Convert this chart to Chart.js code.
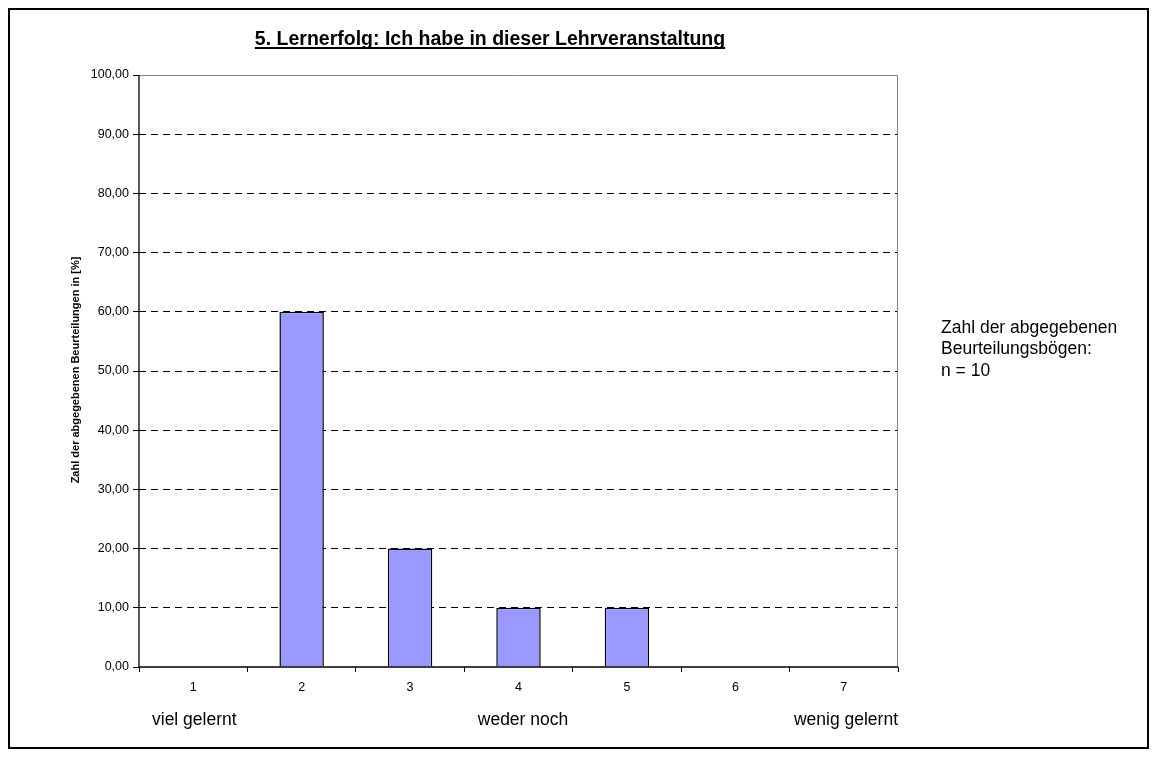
<!DOCTYPE html>
<html>
<head>
<meta charset="utf-8">
<script src="https://cdn.jsdelivr.net/npm/chart.js@4/dist/chart.umd.min.js"></script>
<style>
  html, body { margin: 0; padding: 0; background: #fff; }
  #wrap { width: 1156px; height: 765px; }
</style>
</head>
<body>
<div id="wrap"><canvas id="chart" width="1156" height="765"></canvas></div>
<script>
const categories = ['1', '2', '3', '4', '5', '6', '7'];
const percentValues = [0, 60, 20, 10, 10, 0, 0];
const chartTitle = '5. Lernerfolg: Ich habe in dieser Lehrveranstaltung';
const yAxisTitle = 'Zahl der abgegebenen Beurteilungen in [%]';
const scaleLabels = ['viel gelernt', 'weder noch', 'wenig gelernt'];
const noteLines = ['Zahl der abgegebenen', 'Beurteilungsbögen:', 'n = 10'];

const FONT = '"Liberation Sans", Arial, sans-serif';

// frame, title, notes and the scale words under the axis
const extras = {
    id: 'extras',
    beforeDraw(chart) {
        const c = chart.ctx;
        c.save();
        c.fillStyle = '#fff';
        c.fillRect(0, 0, chart.width, chart.height);
        c.restore();
    },
    afterDraw(chart) {
        const c = chart.ctx;
        const a = chart.chartArea;
        c.save();

        // outer border
        c.strokeStyle = '#000';
        c.lineWidth = 2;
        c.strokeRect(9, 9, 1139, 739);

        // grey top / right plot frame
        c.strokeStyle = '#808080';
        c.lineWidth = 1;
        c.beginPath();
        c.moveTo(a.left, a.top + 0.5);
        c.lineTo(a.right - 0.5, a.top + 0.5);
        c.lineTo(a.right - 0.5, a.bottom);
        c.stroke();

        // black axes
        c.strokeStyle = '#000';
        c.lineWidth = 1.3;
        c.beginPath();
        c.moveTo(a.left, a.top);
        c.lineTo(a.left, a.bottom);
        c.lineTo(a.right, a.bottom);
        c.stroke();

        // title
        c.fillStyle = '#000';
        c.font = 'bold 19.5px ' + FONT;
        c.textAlign = 'center';
        c.textBaseline = 'alphabetic';
        const tx = 490, ty = 45;
        c.fillText(chartTitle, tx, ty);
        const tw = c.measureText(chartTitle).width;
        c.fillRect(tx - tw / 2, ty + 2, tw, 2);

        // y-axis title
        c.save();
        c.translate(76, 370);
        c.rotate(-Math.PI / 2);
        c.font = 'bold 11px ' + FONT;
        c.textBaseline = 'middle';
        c.fillText(yAxisTitle, 0, 0);
        c.restore();

        // scale words
        c.font = '17.5px ' + FONT;
        c.textBaseline = 'middle';
        c.textAlign = 'left';
        c.fillText(scaleLabels[0], 152, 720);
        c.textAlign = 'center';
        c.fillText(scaleLabels[1], 523, 720);
        c.textAlign = 'right';
        c.fillText(scaleLabels[2], 898, 720);

        // note on the right
        c.textAlign = 'left';
        noteLines.forEach((t, i) => c.fillText(t, 941, 328 + i * 21.5));

        c.restore();
    }
};

const ctx = document.getElementById('chart').getContext('2d');
new Chart(ctx, {
    type: 'bar',
    data: {
        labels: categories,
        datasets: [{
            data: percentValues,
            backgroundColor: '#9999ff',
            borderColor: '#000',
            borderWidth: 1.5,
            categoryPercentage: 1,
            barPercentage: 0.41
        }]
    },
    options: {
        responsive: false,
        animation: false,
        devicePixelRatio: 1,
        layout: { padding: { left: 79, right: 258, top: 75, bottom: 58 } },
        plugins: {
            legend: { display: false },
            tooltip: { enabled: false },
            title: { display: false }
        },
        scales: {
            x: {
                offset: true,
                afterFit: (s) => { s.height = 40; },
                grid: {
                    offset: true,
                    drawOnChartArea: false,
                    drawTicks: true,
                    tickLength: 5,
                    tickColor: '#000'
                },
                border: { display: false },
                ticks: {
                    color: '#000',
                    padding: 8,
                    font: { family: FONT, size: 12.5 }
                }
            },
            y: {
                min: 0,
                max: 100,
                afterFit: (s) => { s.width = 60; },
                grid: {
                    color: (c) => (c.tick && c.tick.value > 0 && c.tick.value < 100) ? '#000' : 'rgba(0,0,0,0)',
                    tickColor: '#000',
                    tickLength: 6,
                    tickBorderDash: []
                },
                border: { display: false, dash: [7, 5] },
                ticks: {
                    stepSize: 10,
                    color: '#000',
                    padding: 4,
                    font: { family: FONT, size: 12.5 },
                    callback: (v) => v.toFixed(2).replace('.', ',')
                }
            }
        }
    },
    plugins: [extras]
});
</script>
</body>
</html>
